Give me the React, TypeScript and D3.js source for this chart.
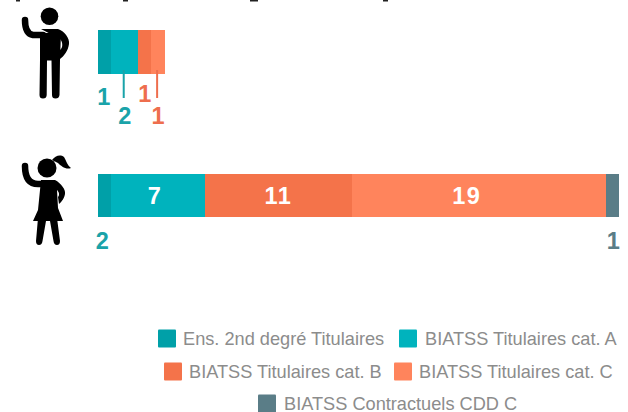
import React from "react";
import * as d3 from "d3";

const categories = ["Ens. 2nd degré Titulaires", "BIATSS Titulaires cat. A", "BIATSS Titulaires cat. B", "BIATSS Titulaires cat. C", "BIATSS Contractuels CDD C"];
const colors = ["#00A0A8", "#00B3BD", "#F4734A", "#FF845C", "#5A7D87"];
const labelColors = ["#1AA3A9", "#1AA3A9", "#EE6E4E", "#EE6E4E", "#5A7D87"];
const menValues = [1, 2, 1, 1, 0];
const menLabels = ["1", "2", "1", "1", ""];
const womenValues = [1, 7, 11, 19, 1];
const womenLabels = ["2", "7", "11", "19", "1"];

const x = d3.scaleLinear().domain([0, 39]).range([98, 619]);

function segs(vals: number[]) {
  let acc = 0;
  return vals.map((v) => {
    const s = { x0: x(acc), x1: x(acc + v), v };
    acc += v;
    return s;
  });
}

const legendLayout = [
  { sx: 158, tx: 183, y: 339 },
  { sx: 399, tx: 425, y: 339 },
  { sx: 164, tx: 189, y: 372 },
  { sx: 394, tx: 419, y: 372 },
  { sx: 258, tx: 284, y: 404 },
];

const Man = () => (
  <g>
    <circle cx={49.5} cy={16.3} r={8.8} fill="#000" />
    <path d="M25 20 C25 28 27 34 33 35 L43 35" fill="none" stroke="#000" strokeWidth={6.5} strokeLinecap="round" strokeLinejoin="round" />
    <path d="M41 29 L58 29 C64 31 70 38 69 44 C68 51 64 56 60 59 L60 50 C63 48 63 42 60 39 Z" fill="#000" />
    <path d="M40 33 L61 33 L60 60 L59.5 95 Q59 98.5 55.5 98.5 Q52 98.5 52 95 L51.5 60.5 L47 60.5 L46.7 95 Q46.5 98.5 43 98.5 Q39.5 98.5 39.5 95 L40 60 Z" fill="#000" />
  </g>
);

const Woman = () => (
  <g>
    <circle cx={47} cy={168} r={9.5} fill="#000" />
    <path d="M52 160 C55 156 60 154 64 157 C66 160 67 165 71 168 C66 170 61 166 58 163 Z" fill="#000" />
    <path d="M25 166 C25 176 28 184 38 184 L44 184" fill="none" stroke="#000" strokeWidth={6.5} strokeLinecap="round" strokeLinejoin="round" />
    <path d="M41 180 L55 180 C61 183 66 190 65 194 C64 199 62 201 59 204 L58 197 C60 195 59 192 57 190 L58 208 L63 221 L33 221 L38 210 Z" fill="#000" />
    <path d="M38 218 L36 241 Q36 245 39 245 Q42 245 42.5 241 L46 221 L50 221 L53.5 241 Q54 245 57 245 Q60 245 60 241 L57 218 Z" fill="#000" />
  </g>
);

export default function App() {
  const men = segs(menValues);
  const women = segs(womenValues);
  const menY = [96, 115, 93, 115];
  return (
    <svg width={628} height={412} style={{ position: "absolute", left: 0, top: 0, fontFamily: "'Liberation Sans'" }}>
      <rect width={628} height={412} fill="#fff" />
      <g fill="#222">
        <rect x={16} y={0} width={4} height={1.5} />
        <rect x={123} y={0} width={5} height={1.5} />
        <rect x={250} y={0} width={8} height={1.5} />
        <rect x={383} y={0} width={5} height={1.5} />
      </g>
      <Man />
      <Woman />
      <g shapeRendering="crispEdges">
        {men.map((s, i) => s.v > 0 && <rect key={i} x={s.x0} y={30} width={s.x1 - s.x0} height={44} fill={colors[i]} />)}
        {women.map((s, i) => <rect key={i} x={s.x0} y={173.5} width={s.x1 - s.x0} height={43.5} fill={colors[i]} />)}
      </g>
      {[1, 3].map((i) => (
        <line key={i} x1={(men[i].x0 + men[i].x1) / 2 - 1} x2={(men[i].x0 + men[i].x1) / 2 - 1} y1={70} y2={98} stroke={i === 1 ? "#1AA3A9" : "#EE6E4E"} strokeWidth={2} />
      ))}
      {men.map((s, i) => menLabels[i] && (
        <text key={i} x={(s.x0 + s.x1) / 2 - (i === 0 ? 1 : 0)} y={menY[i] + 8.5} textAnchor="middle" fontSize={23.5} fontWeight={700} fill={labelColors[i]}>{menLabels[i]}</text>
      ))}
      {women.map((s, i) => {
        const cx = (s.x0 + s.x1) / 2;
        if (i === 0) return <text key={i} x={cx - 2.5} y={248.5} textAnchor="middle" fontSize={23.5} fontWeight={700} fill={labelColors[i]}>{womenLabels[i]}</text>;
        if (i === 4) return <text key={i} x={cx + 1} y={248.5} textAnchor="middle" fontSize={23.5} fontWeight={700} fill={labelColors[i]}>{womenLabels[i]}</text>;
        return <text key={i} x={cx - (i === 3 ? 12 : i === 1 ? 3 : 0)} y={204} textAnchor="middle" fontSize={23.5} fontWeight={700} fill="#fff" letterSpacing={1.5}>{womenLabels[i]}</text>;
      })}
      {categories.map((c, i) => (
        <g key={c}>
          <rect x={legendLayout[i].sx} y={legendLayout[i].y - 9.5} width={18} height={18} rx={1} fill={colors[i]} />
          <text x={legendLayout[i].tx} y={legendLayout[i].y + 6} fontSize={18.2} fill="#8C8C8C">{c}</text>
        </g>
      ))}
    </svg>
  );
}
